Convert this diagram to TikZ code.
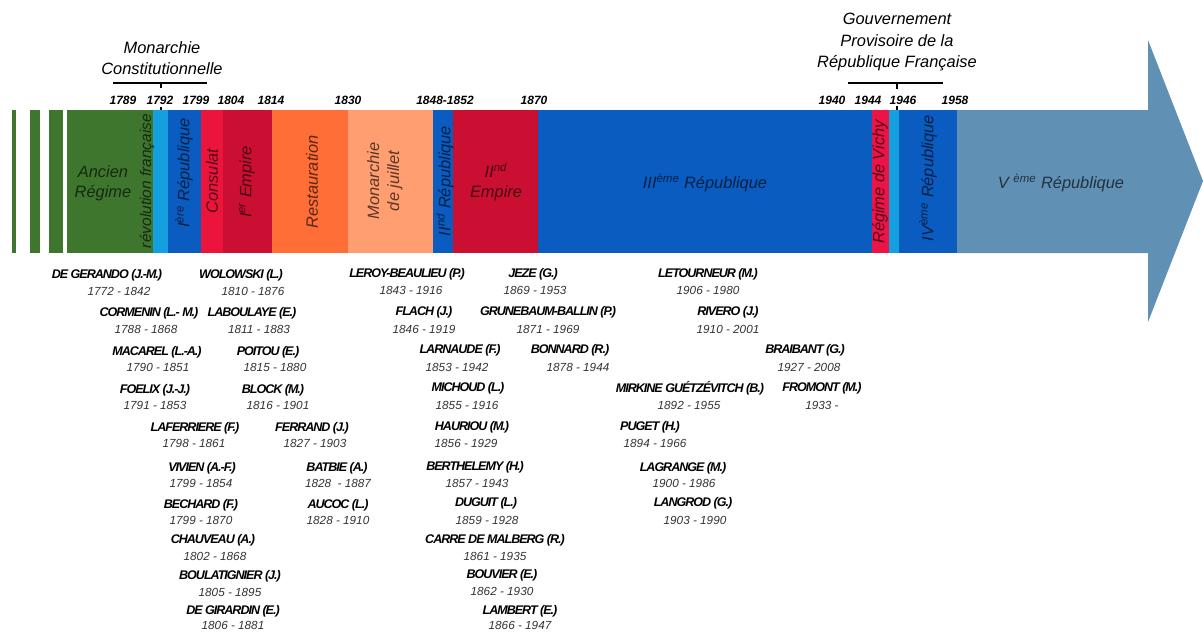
\documentclass[tikz,border=0pt]{standalone}
\usepackage{fontspec}
\setmainfont{Liberation Sans}
\newfontfamily\namefont{Liberation Sans}[LetterSpace=-8]
\definecolor{cgreen}{RGB}{62,118,46}
\definecolor{ccyan}{RGB}{20,160,222}
\definecolor{cblue}{RGB}{10,92,192}
\definecolor{cconsulat}{RGB}{235,20,60}
\definecolor{cempire}{RGB}{202,15,50}
\definecolor{corange}{RGB}{255,110,55}
\definecolor{cpeach}{RGB}{255,158,112}
\definecolor{cvichy}{RGB}{236,20,70}
\definecolor{csteel}{RGB}{96,145,181}
\begin{document}
\begin{tikzpicture}[x=0.75pt,y=-0.75pt,
  nm/.style={inner sep=0pt, font=\namefont\fontsize{9.4}{10}\selectfont\bfseries\itshape},
  dt/.style={inner sep=0pt, text=black!80, font=\fontsize{8.8}{10}\selectfont\itshape},
  yr/.style={inner sep=0pt, font=\fontsize{9}{11}\selectfont\bfseries\itshape},
  seg/.style={inner sep=0pt, text=black, text opacity=0.65, align=center,
              font=\fontsize{12.3}{15}\selectfont\itshape},
  vseg/.style={seg, rotate=90},
  lbl/.style={inner sep=0pt, align=center, font=\fontsize{12.3}{16}\selectfont\itshape},
  brk/.style={line width=0.8pt, black}]
\useasboundingbox (0,0) rectangle (1203,632);
% ---- bands
\fill[cgreen] (12,110) rectangle (16,253);
\fill[cgreen] (30,110) rectangle (40,253);
\fill[cgreen] (49,110) rectangle (63,253);
\fill[cgreen] (67,110) rectangle (153,253);
\fill[ccyan] (153,110) rectangle (168,253);
\fill[cblue] (168,110) rectangle (201,253);
\fill[cconsulat] (201,110) rectangle (223,253);
\fill[cempire] (223,110) rectangle (272,253);
\fill[corange] (272,110) rectangle (348,253);
\fill[cpeach] (348,110) rectangle (433,253);
\fill[cblue] (433,110) rectangle (453,253);
\fill[cempire] (453,110) rectangle (538,253);
\fill[cblue] (538,110) rectangle (872,253);
\fill[cvichy] (872,110) rectangle (889,253);
\fill[ccyan] (889,110) rectangle (899,253);
\fill[cblue] (899,110) rectangle (957,253);
\fill[csteel] (957,110) -- (1148,110) -- (1148,40) -- (1203,181) -- (1148,322)
  -- (1148,253) -- (957,253) -- cycle;
% ---- band labels
\node[seg] (ar) at (103,183) {Ancien\\Régime};
\node[vseg, font=\fontsize{11.6}{14}\selectfont\itshape] (rf) at (147,181) {révolution française};
\node[vseg] (r1) at (184,173) {I\textsuperscript{ère} République};
\node[vseg] (co) at (212,181) {Consulat};
\node[vseg] (e1) at (247,182) {I\textsuperscript{er} Empire};
\node[vseg] (re) at (312,182) {Restauration};
\node[vseg] (mj) at (385,181) {Monarchie\\de juillet};
\node[vseg] (r2) at (445,181) {II\textsuperscript{nd} République};
\node[seg] (e2) at (496,182) {II\textsuperscript{nd}\\Empire};
\node[seg] (r3) at (705,183) {III\textsuperscript{ème} République};
\node[vseg] (vi) at (880,182) {Régime de Vichy};
\node[vseg] (r4) at (928,178) {IV\textsuperscript{ème} République};
\node[seg] (r5) at (1061,183) {V \textsuperscript{ème} République};
% ---- top labels and brackets
\node[lbl] (mc) at (162,58) {Monarchie\\Constitutionnelle};
\node[lbl] (gp) at (897,42) {Gouvernement\\Provisoire de la\\République Française};
\draw[brk] (113,83) -- (207,83);
\draw[brk] (161,83) -- (161,88);
\draw[brk] (161,107) -- (161,110);
\draw[brk] (848,83) -- (943,83);
\draw[brk] (897,83) -- (897,89);
\draw[brk] (897,106) -- (897,110);
% ---- years
\node[yr] (y1) at (123,100) {1789};
\node[yr] (y2) at (160,100) {1792};
\node[yr] (y3) at (196,100) {1799};
\node[yr] (y4) at (231,100) {1804};
\node[yr] (y5) at (271,100) {1814};
\node[yr] (y6) at (348,100) {1830};
\node[yr] (y7) at (445,100) {1848-1852};
\node[yr] (y8) at (534,100) {1870};
\node[yr] (y9) at (832,100) {1940};
\node[yr] (y10) at (868,100) {1944};
\node[yr] (y11) at (903,100) {1946};
\node[yr] (y12) at (955,100) {1958};
% ---- column A
\node[nm] (a1) at (107,275) {DE GERANDO (J.-M.)};   \node[dt] (a1d) at (119,291) {1772 - 1842};
\node[nm] (a2) at (149,313) {CORMENIN (L.- M.)};    \node[dt] (a2d) at (146,329) {1788 - 1868};
\node[nm] (a3) at (157,352) {MACAREL (L.-A.)};      \node[dt] (a3d) at (158,367) {1790 - 1851};
\node[nm] (a4) at (155,390) {FOELIX (J.-J.)};       \node[dt] (a4d) at (155,405) {1791 - 1853};
\node[nm] (a5) at (195,428) {LAFERRIERE (F.)};      \node[dt] (a5d) at (194,443) {1798 - 1861};
\node[nm] (a6) at (202,468) {VIVIEN (A.-F.)};       \node[dt] (a6d) at (201,483) {1799 - 1854};
\node[nm] (a7) at (201,505) {BECHARD (F.)};         \node[dt] (a7d) at (201,520) {1799 - 1870};
\node[nm] (a8) at (213,540) {CHAUVEAU (A.)};        \node[dt] (a8d) at (215,556) {1802 - 1868};
\node[nm] (a9) at (230,576) {BOULATIGNIER (J.)};    \node[dt] (a9d) at (230,592) {1805 - 1895};
\node[nm] (a10) at (233,611) {DE GIRARDIN (E.)};    \node[dt] (a10d) at (233,625) {1806 - 1881};
% ---- column B
\node[nm] (b1) at (241,275) {WOLOWSKI (L.)};        \node[dt] (b1d) at (253,291) {1810 - 1876};
\node[nm] (b2) at (252,313) {LABOULAYE (E.)};       \node[dt] (b2d) at (259,329) {1811 - 1883};
\node[nm] (b3) at (268,352) {POITOU (E.)};          \node[dt] (b3d) at (275,367) {1815 - 1880};
\node[nm] (b4) at (273,390) {BLOCK (M.)};           \node[dt] (b4d) at (278,405) {1816 - 1901};
\node[nm] (b5) at (312,428) {FERRAND (J.)};         \node[dt] (b5d) at (315,443) {1827 - 1903};
\node[nm] (b6) at (337,468) {BATBIE (A.)};          \node[dt] (b6d) at (338,483) {1828 \ - 1887};
\node[nm] (b7) at (338,505) {AUCOC (L.)};           \node[dt] (b7d) at (338,520) {1828 - 1910};
% ---- column C
\node[nm] (c1) at (407,274) {LEROY-BEAULIEU (P.)};  \node[dt] (c1d) at (411,290) {1843 - 1916};
\node[nm] (c2) at (424,312) {FLACH (J.)};           \node[dt] (c2d) at (424,329) {1846 - 1919};
\node[nm] (c3) at (460,350) {LARNAUDE (F.)};        \node[dt] (c3d) at (457,367) {1853 - 1942};
\node[nm] (c4) at (468,388) {MICHOUD (L.)};         \node[dt] (c4d) at (467,405) {1855 - 1916};
\node[nm] (c5) at (472,427) {HAURIOU (M.)};         \node[dt] (c5d) at (466,443) {1856 - 1929};
\node[nm] (c6) at (475,467) {BERTHELEMY (H.)};      \node[dt] (c6d) at (477,483) {1857 - 1943};
\node[nm] (c7) at (486,503) {DUGUIT (L.)};          \node[dt] (c7d) at (487,520) {1859 - 1928};
\node[nm] (c8) at (495,540) {CARRE DE MALBERG (R.)}; \node[dt] (c8d) at (495,556) {1861 - 1935};
\node[nm] (c9) at (502,575) {BOUVIER (E.)};         \node[dt] (c9d) at (502,591) {1862 - 1930};
\node[nm] (c10) at (520,611) {LAMBERT (E.)};        \node[dt] (c10d) at (520,625) {1866 - 1947};
% ---- column D
\node[nm] (d1) at (533,274) {JEZE (G.)};            \node[dt] (d1d) at (535,290) {1869 - 1953};
\node[nm] (d2) at (548,312) {GRUNEBAUM-BALLIN (P.)}; \node[dt] (d2d) at (548,329) {1871 - 1969};
\node[nm] (d3) at (570,350) {BONNARD (R.)};         \node[dt] (d3d) at (578,367) {1878 - 1944};
\node[nm] (d4) at (690,388) {MIRKINE GUÉTZÉVITCH (B.)}; \node[dt] (d4d) at (689,405) {1892 - 1955};
\node[nm] (d5) at (650,427) {PUGET (H.)};           \node[dt] (d5d) at (655,443) {1894 - 1966};
\node[nm] (d6) at (683,468) {LAGRANGE (M.)};        \node[dt] (d6d) at (684,483) {1900 - 1986};
\node[nm] (d7) at (693,503) {LANGROD (G.)};         \node[dt] (d7d) at (695,520) {1903 - 1990};
% ---- column E
\node[nm] (e1n) at (708,274) {LETOURNEUR (M.)};     \node[dt] (e1d) at (708,290) {1906 - 1980};
\node[nm] (e2n) at (728,312) {RIVERO (J.)};         \node[dt] (e2d) at (728,329) {1910 - 2001};
\node[nm] (e3n) at (805,350) {BRAIBANT (G.)};       \node[dt] (e3d) at (809,367) {1927 - 2008};
\node[nm] (e4n) at (822,388) {FROMONT (M.)};        \node[dt] (e4d) at (822,405) {1933 -};
\end{tikzpicture}
\end{document}
